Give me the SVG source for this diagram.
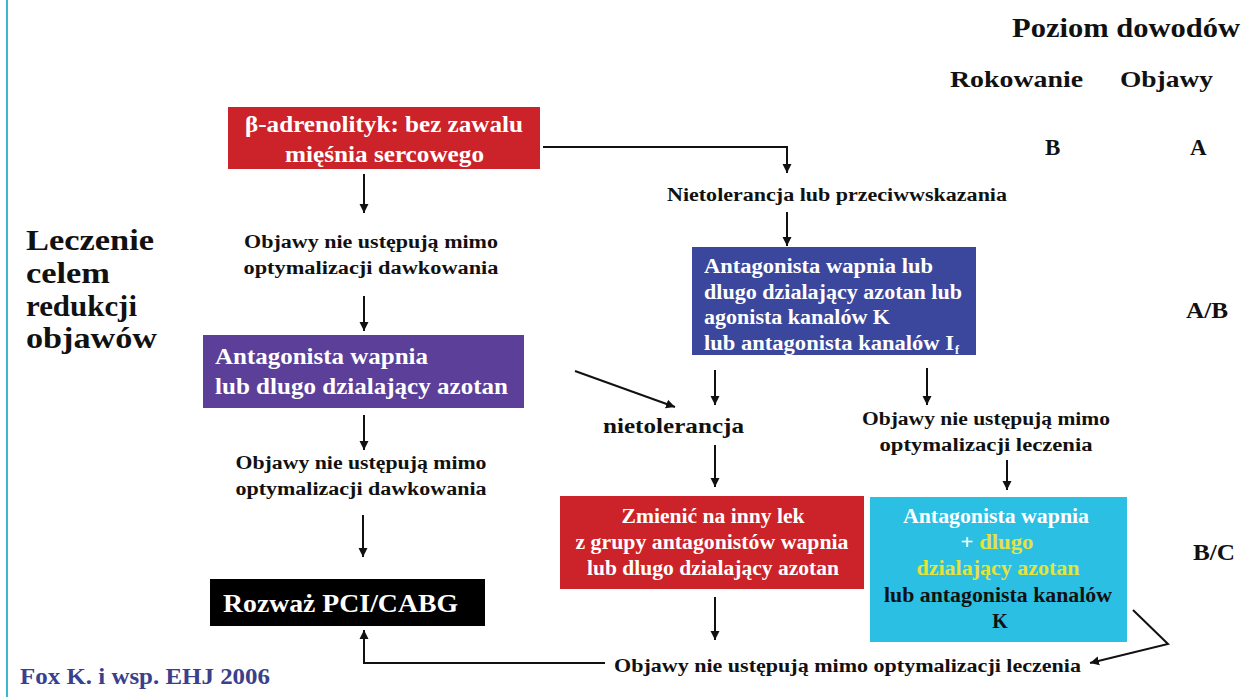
<svg xmlns="http://www.w3.org/2000/svg" width="1247" height="697" viewBox="0 0 1247 697">
<style>
text{font-family:"Liberation Serif","Times New Roman",serif;font-weight:bold}
.w{fill:#ffffff}
.k{fill:#111111}
.y{fill:#e6e23a}
.c{text-anchor:middle}
.conn{fill:none;stroke:#111111;stroke-width:2}
</style>
<defs>
<marker id="ah" viewBox="0 0 10 10" refX="10" refY="5" markerWidth="9" markerHeight="10" markerUnits="userSpaceOnUse" orient="auto">
<path d="M0,0 L10,5 L0,10 z" fill="#111111"/>
</marker>
</defs>
<rect x="0" y="0" width="1247" height="697" fill="#ffffff"/>
<line x1="7" y1="0" x2="7" y2="697" stroke="#3bb8d0" stroke-width="2"/>

<g id="header">
<text x="1012" y="37" font-size="28" class="k" textLength="228" lengthAdjust="spacingAndGlyphs">Poziom dowodów</text>
<text x="950" y="87" font-size="24" class="k" textLength="133" lengthAdjust="spacingAndGlyphs">Rokowanie</text>
<text x="1120" y="87" font-size="24" class="k" textLength="93" lengthAdjust="spacingAndGlyphs">Objawy</text>
<text x="1045" y="155" font-size="23" class="k">B</text>
<text x="1190" y="155" font-size="23" class="k">A</text>
<text x="1186" y="318" font-size="23" class="k" textLength="42" lengthAdjust="spacingAndGlyphs">A/B</text>
<text x="1193" y="560" font-size="23" class="k" textLength="42" lengthAdjust="spacingAndGlyphs">B/C</text>
</g>

<g id="side-label" font-size="29">
<text x="26" y="250" class="k" textLength="128" lengthAdjust="spacingAndGlyphs">Leczenie</text>
<text x="26" y="283" class="k" textLength="84" lengthAdjust="spacingAndGlyphs">celem</text>
<text x="26" y="316" class="k" textLength="111" lengthAdjust="spacingAndGlyphs">redukcji</text>
<text x="26" y="348" class="k" textLength="131" lengthAdjust="spacingAndGlyphs">objawów</text>
</g>

<g id="beta">
<rect x="228" y="107" width="312" height="62" fill="#cc2229"/>
<text x="245" y="132" font-size="23" class="w" textLength="278" lengthAdjust="spacingAndGlyphs">β-adrenolityk: bez zawalu</text>
<text x="285" y="162" font-size="23" class="w" textLength="199" lengthAdjust="spacingAndGlyphs">mięśnia sercowego</text>
</g>

<g id="obj1">
<text x="371" y="248" font-size="18.5" class="k c" textLength="254" lengthAdjust="spacingAndGlyphs">Objawy nie ustępują mimo</text>
<text x="371" y="274" font-size="18.5" class="k c" textLength="255" lengthAdjust="spacingAndGlyphs">optymalizacji dawkowania</text>
</g>

<g id="antag1">
<rect x="203" y="335" width="321" height="73" fill="#5b3f99"/>
<text x="215" y="364" font-size="23" class="w" textLength="213" lengthAdjust="spacingAndGlyphs">Antagonista wapnia</text>
<text x="215" y="394" font-size="23" class="w" textLength="293" lengthAdjust="spacingAndGlyphs">lub dlugo dzialający azotan</text>
</g>

<g id="obj2">
<text x="361" y="469" font-size="18.5" class="k c" textLength="251" lengthAdjust="spacingAndGlyphs">Objawy nie ustępują mimo</text>
<text x="361" y="495" font-size="18.5" class="k c" textLength="251" lengthAdjust="spacingAndGlyphs">optymalizacji dawkowania</text>
</g>

<g id="pci">
<rect x="210" y="579" width="275" height="47" fill="#000000"/>
<text x="223" y="612" font-size="25" class="w" textLength="235" lengthAdjust="spacingAndGlyphs">Rozważ PCI/CABG</text>
</g>

<g id="nietol1">
<text x="667" y="201" font-size="18.5" class="k" textLength="340" lengthAdjust="spacingAndGlyphs">Nietolerancja lub przeciwwskazania</text>
</g>

<g id="blue">
<rect x="692" y="247" width="284" height="108" fill="#3b479d"/>
<text x="704" y="273" font-size="20" class="w" textLength="229" lengthAdjust="spacingAndGlyphs">Antagonista wapnia  lub</text>
<text x="704" y="299" font-size="20" class="w" textLength="258" lengthAdjust="spacingAndGlyphs">dlugo dzialający azotan lub</text>
<text x="704" y="324" font-size="20" class="w" textLength="186" lengthAdjust="spacingAndGlyphs">agonista kanalów K</text>
<text x="704" y="350" font-size="20" class="w" textLength="250" lengthAdjust="spacingAndGlyphs">lub antagonista kanalów I</text>
<text x="955" y="354" font-size="12" class="w">f</text>
</g>

<g id="nietol2">
<text x="603" y="433" font-size="22" class="k" textLength="141" lengthAdjust="spacingAndGlyphs">nietolerancja</text>
</g>

<g id="obj3">
<text x="986" y="425" font-size="18.5" class="k c" textLength="248" lengthAdjust="spacingAndGlyphs">Objawy nie ustępują mimo</text>
<text x="986" y="451" font-size="18.5" class="k c" textLength="213" lengthAdjust="spacingAndGlyphs">optymalizacji leczenia</text>
</g>

<g id="zmien">
<rect x="560" y="496" width="304" height="93" fill="#cc2229"/>
<text x="713" y="523" font-size="20" class="w c" textLength="183" lengthAdjust="spacingAndGlyphs">Zmienić na inny lek</text>
<text x="712" y="549" font-size="20" class="w c" textLength="273" lengthAdjust="spacingAndGlyphs">z grupy antagonistów wapnia</text>
<text x="713" y="575" font-size="20" class="w c" textLength="252" lengthAdjust="spacingAndGlyphs">lub dlugo dzialający azotan</text>
</g>

<g id="cyan">
<rect x="870" y="497" width="257" height="145" fill="#2bbfe3"/>
<text x="996" y="523" font-size="20" class="w c" textLength="186" lengthAdjust="spacingAndGlyphs">Antagonista wapnia</text>
<text x="997" y="549" font-size="20" class="c" textLength="73" lengthAdjust="spacingAndGlyphs"><tspan class="w">+ </tspan><tspan class="y">dlugo</tspan></text>
<text x="998" y="575" font-size="20" class="y c" textLength="163" lengthAdjust="spacingAndGlyphs">dzialający azotan</text>
<text x="998" y="602" font-size="20" class="k c" textLength="228" lengthAdjust="spacingAndGlyphs">lub antagonista kanalów</text>
<text x="1000" y="628" font-size="20" class="k c">K</text>
</g>

<g id="obj4">
<text x="614" y="672" font-size="19" class="k" textLength="467" lengthAdjust="spacingAndGlyphs">Objawy nie ustępują mimo optymalizacji leczenia</text>
</g>

<g id="source">
<text x="20" y="684" font-size="23" fill="#3a3f8e" textLength="250" lengthAdjust="spacingAndGlyphs">Fox K. i wsp. EHJ 2006</text>
</g>

<g id="connectors" class="conn">
<line x1="364" y1="174" x2="364" y2="213" marker-end="url(#ah)"/>
<line x1="364" y1="296" x2="364" y2="331" marker-end="url(#ah)"/>
<line x1="364" y1="415" x2="364" y2="450" marker-end="url(#ah)"/>
<line x1="363" y1="515" x2="363" y2="557" marker-end="url(#ah)"/>
<polyline points="605,663 364,663 364,630" marker-end="url(#ah)"/>
<polyline points="543,147 787,147 787,173" marker-end="url(#ah)"/>
<line x1="787" y1="212" x2="787" y2="246" marker-end="url(#ah)"/>
<line x1="575" y1="371" x2="675" y2="407" marker-end="url(#ah)"/>
<line x1="715" y1="370" x2="715" y2="405" marker-end="url(#ah)"/>
<line x1="715" y1="445" x2="715" y2="487" marker-end="url(#ah)"/>
<line x1="715" y1="597" x2="715" y2="640" marker-end="url(#ah)"/>
<line x1="927" y1="368" x2="927" y2="405" marker-end="url(#ah)"/>
<line x1="1007" y1="460" x2="1007" y2="490" marker-end="url(#ah)"/>
<polyline points="1133,610 1168,644 1090,663" marker-end="url(#ah)"/>
</g>
</svg>
